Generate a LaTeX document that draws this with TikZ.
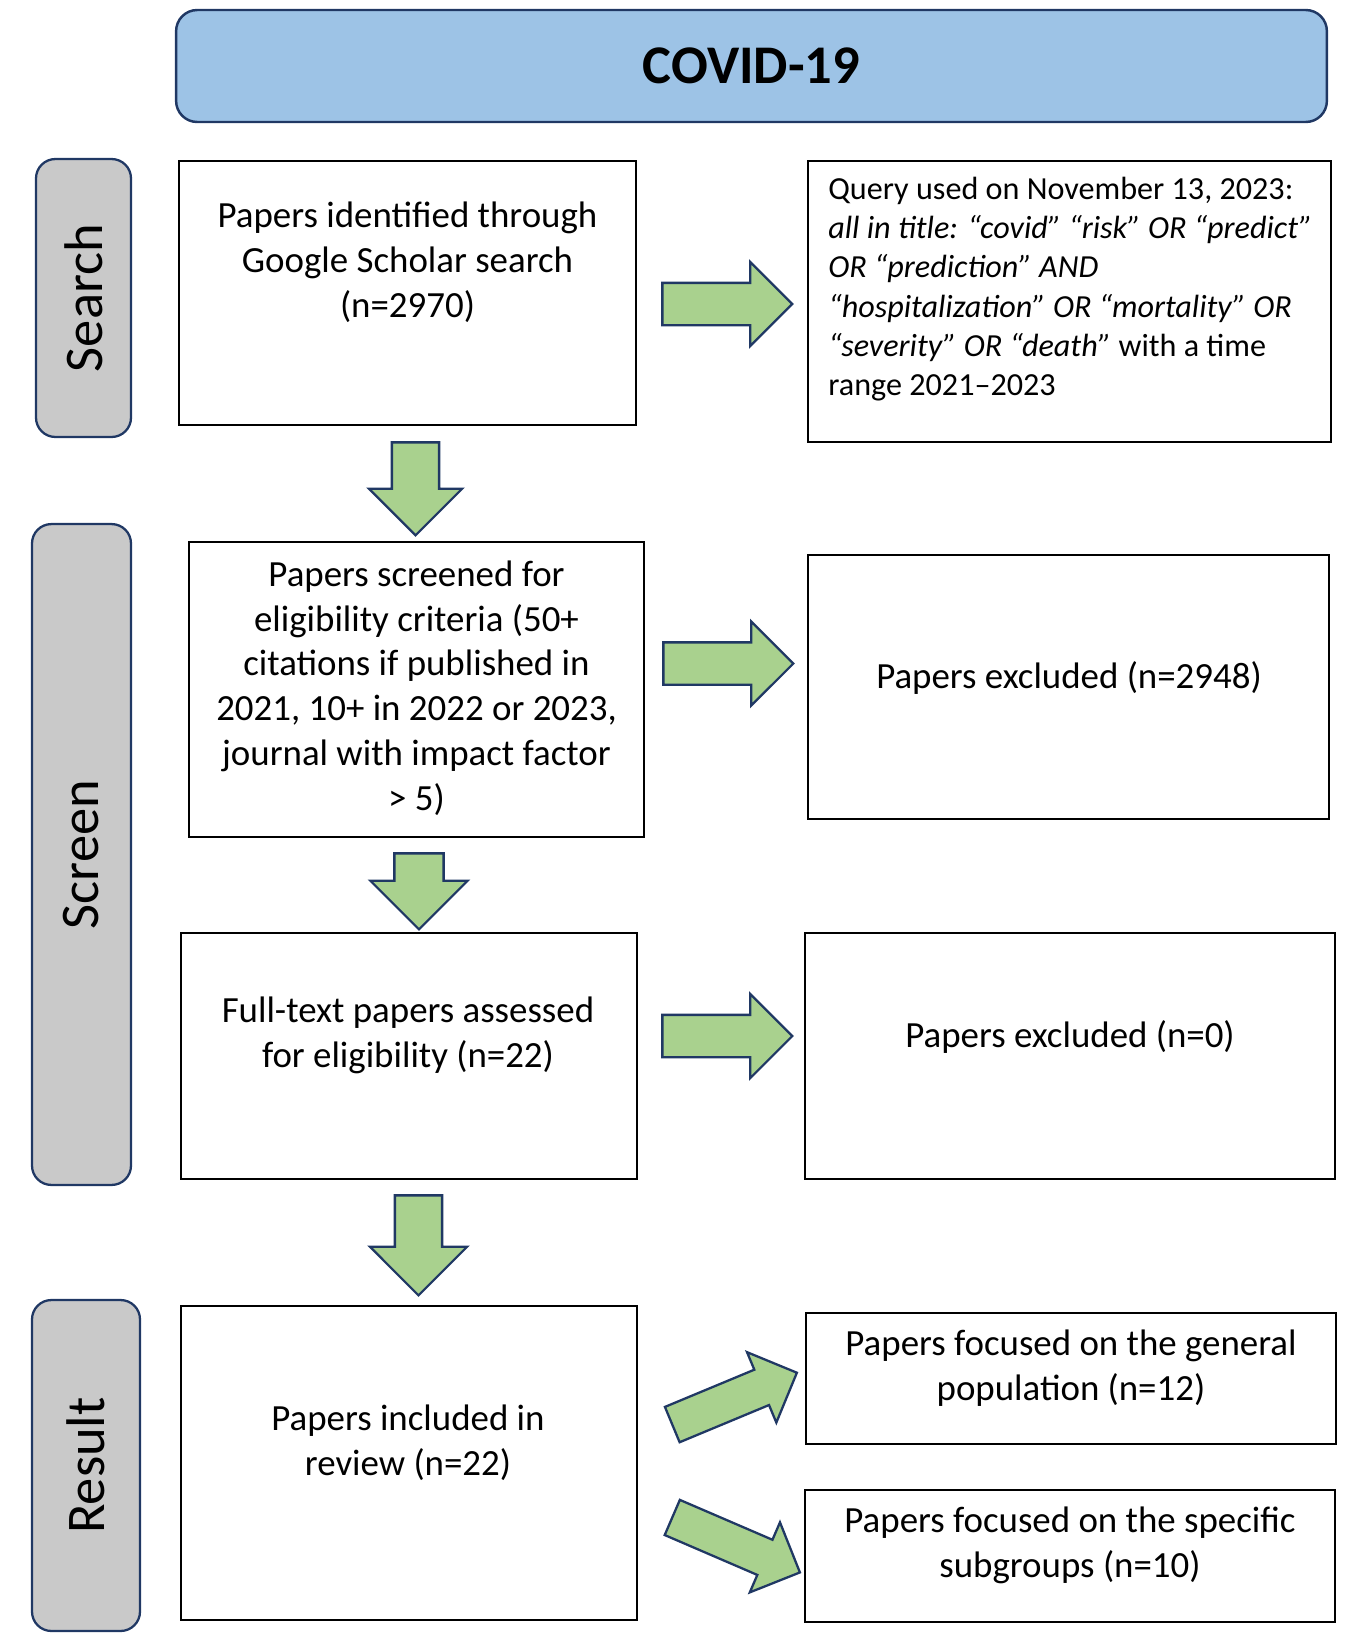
\documentclass[tikz,border=0pt]{standalone}
\usepackage{fontspec}
\setmainfont{Carlito}
\usepackage{xcolor}
\usepackage{tikz}
\usetikzlibrary{positioning, shapes.arrows, fit, calc}

\definecolor{titleblue}{HTML}{9DC3E6}
\definecolor{navy}{HTML}{203864}
\definecolor{sidegray}{HTML}{C9C9C9}
\definecolor{arrowgreen}{HTML}{A9D18E}

\begin{document}
\begin{tikzpicture}[x=0.02cm, y=-0.02cm,
  titlebox/.style={draw=navy, fill=titleblue, line width=1.4pt, rounded corners=12pt,
    minimum width=23.02cm, minimum height=2.24cm, font=\fontsize{31}{36}\selectfont\bfseries},
  sidebox/.style={draw=navy, fill=sidegray, line width=1.3pt, rounded corners=11pt,
    rotate=90, inner sep=0pt, font=\fontsize{31}{36}\selectfont},
  paperbox/.style={draw=black, line width=1.4pt, inner sep=0pt},
  boxtext/.style={align=center, inner sep=0pt, font=\fontsize{21}{25.5}\selectfont},
  querytext/.style={align=left, inner sep=0pt, anchor=west, font=\fontsize{18.3}{22.3}\selectfont},
  greenarrow/.style={single arrow, draw=navy, fill=arrowgreen, line width=1.3pt, anchor=tail,
    inner xsep=0pt, inner ysep=0.4cm, single arrow head extend=0.42cm},
  rarrow/.style={greenarrow, minimum height=2.6cm},
  darrow/.style={greenarrow, rotate=-90, inner ysep=0.45cm, single arrow head extend=0.46cm}]
  % page 1346 x 1634 px, 1px = 0.02cm, y runs downward
  \useasboundingbox (0,0) rectangle (1346,1634);

  % header
  \node[titlebox] (title) at (751.5,66) {COVID-19};

  % stage labels on the left
  \node[sidebox, minimum width=5.56cm, minimum height=1.9cm] (stsearch) at (83.5,298) {Search};
  \node[sidebox, minimum width=13.22cm, minimum height=1.98cm] (stscreen) at (81.5,854.5) {Screen};
  \node[sidebox, minimum width=6.62cm, minimum height=2.16cm] (stresult) at (86,1465.5) {Result};

  % main column
  \node[paperbox, fit={(179,161) (636,425)}] (identified) {};
  \node[boxtext] (identifiedtxt) at (407.5,262) {Papers identified through\\Google Scholar search\\(n=2970)};
  \node[paperbox, fit={(189,542) (644,837)}] (screened) {};
  \node[boxtext] (screenedtxt) at (416.5,688) {Papers screened for\\eligibility criteria (50+\\citations if published in\\2021, 10+ in 2022 or 2023,\\journal with impact factor\\> 5)};
  \node[paperbox, fit={(181,933) (637,1179)}] (fulltext) {};
  \node[boxtext] (fulltexttxt) at (408,1035) {Full-text papers assessed\\for eligibility (n=22)};
  \node[paperbox, fit={(181,1306) (637,1620)}] (included) {};
  \node[boxtext] (includedtxt) at (408,1443) {Papers included in\\review (n=22)};

  % right column
  \node[paperbox, fit={(808,161) (1331,442)}] (query) {};
  \node[querytext] (querytxt) at (828,289) {Query used on November 13, 2023:\\
    \textit{all in title: “covid” “risk” OR “predict”}\\
    \textit{OR “prediction” AND}\\
    \textit{“hospitalization” OR “mortality” OR}\\
    \textit{“severity” OR “death”} with a time\\
    range 2021–2023};
  \node[paperbox, fit={(808,555) (1329,819)}] (excla) {};
  \node[boxtext] (exclatxt) at (1069,678) {Papers excluded (n=2948)};
  \node[paperbox, fit={(805,933) (1335,1179)}] (exclb) {};
  \node[boxtext] (exclbtxt) at (1070,1037) {Papers excluded (n=0)};
  \node[paperbox, fit={(806,1313) (1336,1444)}] (general) {};
  \node[boxtext] (generaltxt) at (1071,1368) {Papers focused on the general\\population (n=12)};
  \node[paperbox, fit={(805,1490) (1335,1622)}] (specific) {};
  \node[boxtext] (specifictxt) at (1070,1545) {Papers focused on the specific\\subgroups (n=10)};

  % block arrows, placed by their tails
  \node[rarrow] (arrq) at ($(identified.east) + (24,11)$) {};
  \node[rarrow] (arrea) at ($(screened.east) + (17,-26)$) {};
  \node[rarrow] (arreb) at ($(fulltext.east) + (23,-20)$) {};
  \node[darrow, minimum height=1.86cm] (arrsc) at ($(identified.south) + (8,15)$) {};
  \node[darrow, minimum height=1.52cm, inner ysep=0.47cm, single arrow head extend=0.48cm] (arrft) at ($(screened.south) + (2.5,14)$) {};
  \node[darrow, minimum height=2.0cm, single arrow head extend=0.5cm] (arrin) at ($(fulltext.south) + (9.5,14)$) {};
  \node[greenarrow, minimum height=2.7cm, inner ysep=0.36cm, single arrow head extend=0.38cm, rotate=22.6] (arrgen) at ($(included.east) + (33,-38)$) {};
  \node[greenarrow, minimum height=2.78cm, inner ysep=0.36cm, single arrow head extend=0.38cm, rotate=-23.3] (arrspec) at ($(included.east) + (33,54)$) {};
\end{tikzpicture}
\end{document}
